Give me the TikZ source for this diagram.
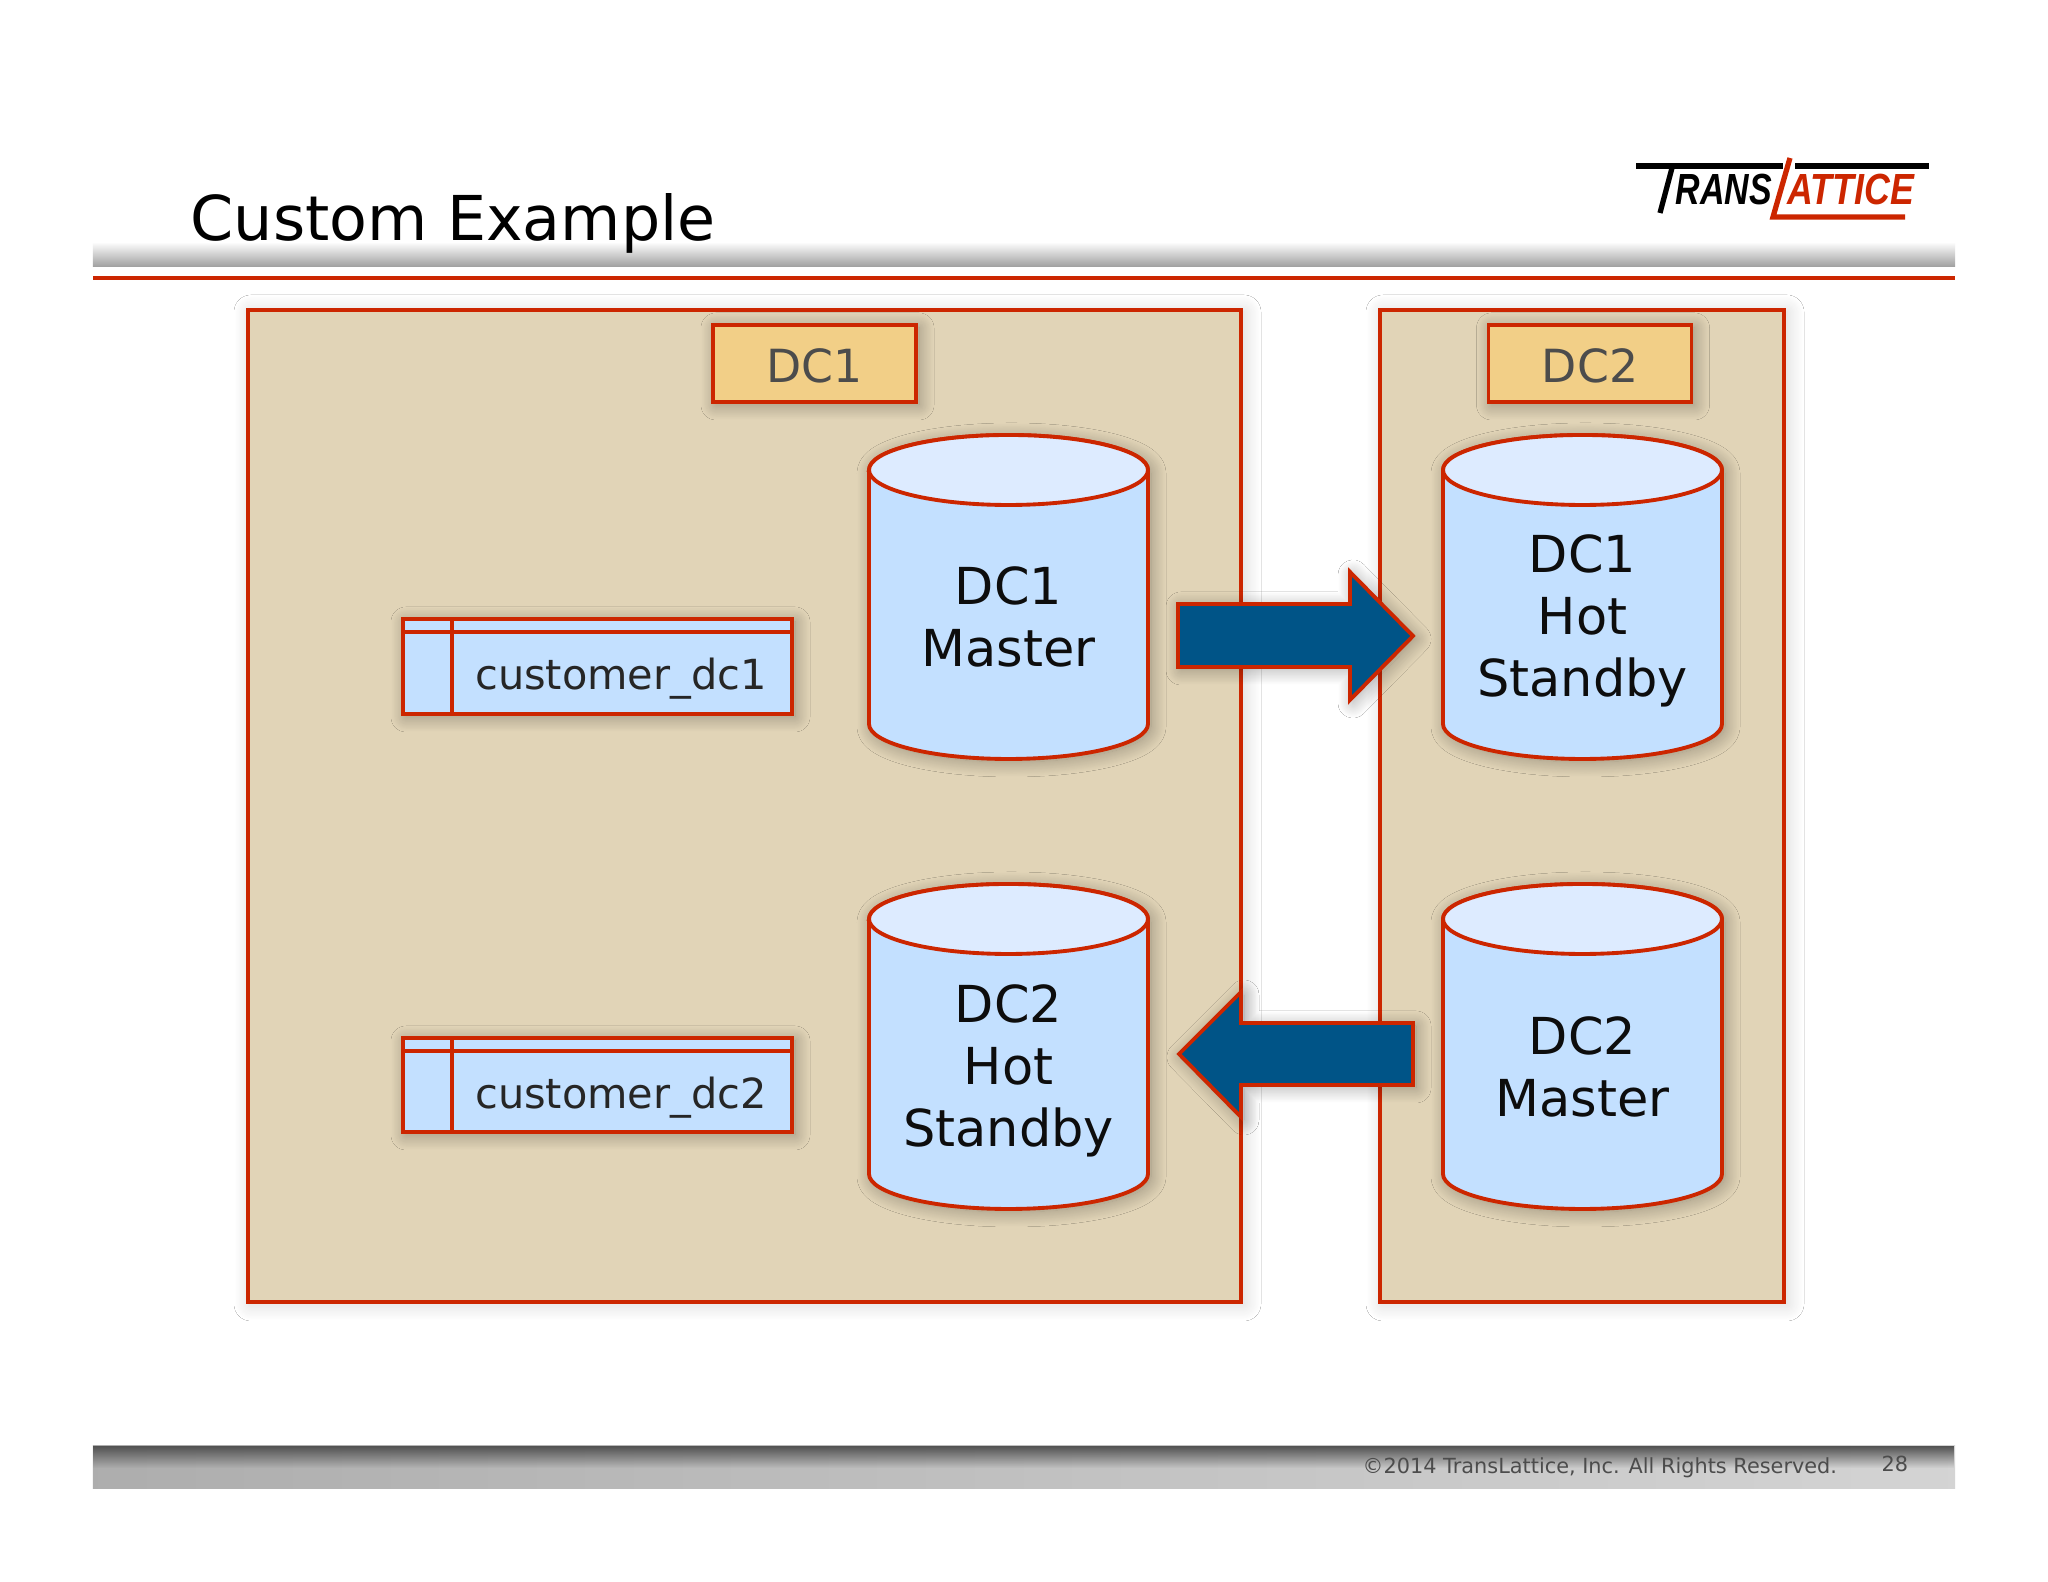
\documentclass[tikz,border=0pt]{standalone}
\usepackage{fontspec}
\setmainfont{DejaVu Sans}
\newfontfamily\logofont{Liberation Sans}
\usepackage{tikz}
\usetikzlibrary{shadows.blur, fadings}
\definecolor{boxred}{HTML}{CC2600}
\definecolor{sitetan}{HTML}{E1D4B7}
\definecolor{tagtan}{HTML}{F2CF87}
\definecolor{dbblue}{HTML}{C3E0FF}
\definecolor{dbtop}{HTML}{DDEBFF}
\definecolor{arrowblue}{HTML}{005487}
\tikzset{
	softshadow/.style={blur shadow={shadow xshift=.03cm, shadow yshift=-.03cm, shadow blur radius=.15cm, shadow blur steps=24, shadow opacity=34}},
	paleshadow/.style={blur shadow={shadow xshift=.03cm, shadow yshift=-.02cm, shadow blur radius=.17cm, shadow blur steps=24, shadow opacity=17}},
	redline/.style={draw=boxred, line width=1.1pt, line join=miter},
	sitebox/.style={redline, fill=sitetan, paleshadow},
	tagbox/.style={redline, fill=tagtan, softshadow, minimum width=2.03cm, minimum height=.77cm, text height=11pt, text depth=0pt, text=black!70, font=\fontsize{13}{15}\selectfont},
	dbbody/.style={redline, fill=dbblue, softshadow},
	dbcap/.style={redline, fill=dbtop},
	dblabel/.style={align=center, text=black!95, font=\fontsize{14.5}{17.6}\selectfont},
	tablebox/.style={redline, fill=dbblue, softshadow},
	tablelabel/.style={text=black!85, font=\fontsize{11.8}{14}\selectfont},
	flowarrow/.style={redline, fill=arrowblue, softshadow},
	logoblack/.style={line width=1.5pt, draw=black},
	logored/.style={line width=1.5pt, draw=boxred},
	logotext/.style={font=\logofont\bfseries\itshape\fontsize{12.4}{13}\selectfont, inner sep=0pt, anchor=base west},
	footer/.style={inner sep=0pt, anchor=base west, text=black!70, font=\fontsize{5.93}{7}\selectfont}
}
\begin{document}
\begin{tikzpicture}
		\useasboundingbox (0,0) rectangle (20.48,15.82);
		\fill[white] (0,0) rectangle (20.48,15.82);

		\shade[top color=white, bottom color=black!38] (.93,13.40) rectangle (19.55,13.15);
		\fill[boxred] (.93,13.06) rectangle (19.55,13.02);
		\node[inner sep=0pt, anchor=base west, font=\fontsize{17.6}{22}\selectfont] (title) at (1.90,13.41) {Custom Example};

		\draw[logoblack] (16.36,14.16) -- (17.83,14.16); \draw[logoblack] (17.95,14.16) -- (19.29,14.16); \draw[logoblack] (16.72,14.14) -- (16.60,13.69);
		\draw[logored, line join=miter] (17.90,14.24) -- (17.73,13.65) -- (19.05,13.65);
		\node[logotext, text=black, xscale=.78] (logotrans) at (16.75,13.77) {RANS};
		\node[logotext, text=boxred, xscale=.82] (logolattice) at (17.87,13.77) {ATTICE};

		\draw[sitebox] (2.48,2.80) rectangle (12.41,12.72);
		\draw[sitebox] (13.80,2.80) rectangle (17.84,12.72);
		\node[tagbox] (tagone) at (8.145,12.185) {DC1};
		\node[tagbox] (tagtwo) at (15.90,12.185) {DC2};

		\draw[tablebox] (4.03,8.68) rectangle (7.92,9.63); \draw[redline] (4.03,9.50) -- (7.92,9.50); \draw[redline] (4.52,8.68) -- (4.52,9.63);
		\node[tablelabel] (tableone) at (6.21,9.03) {customer\_dc1};
		\draw[tablebox] (4.03,4.50) rectangle (7.92,5.44); \draw[redline] (4.03,5.31) -- (7.92,5.31); \draw[redline] (4.52,4.50) -- (4.52,5.44);
		\node[tablelabel] (tabletwo) at (6.21,4.84) {customer\_dc2};

		\draw[flowarrow] (11.78,9.78) -- (13.50,9.78) -- (13.50,10.10) -- (14.13,9.46) -- (13.50,8.82) -- (13.50,9.15) -- (11.78,9.15) -- cycle;
		\draw[flowarrow] (11.79,5.28) -- (12.41,5.90) -- (12.41,5.59) -- (14.13,5.59) -- (14.13,4.97) -- (12.41,4.97) -- (12.41,4.65) -- cycle;

		\draw[dbbody] (8.69,11.12) -- (8.69,8.58) arc (180:360:1.395 and .35) -- (11.48,11.12) arc (0:180:1.395 and .35) -- cycle; \draw[dbcap] (10.085,11.12) ellipse (1.395 and .35);
		\node[dblabel] (dbonemaster) at (10.085,9.65) {DC1\\Master};
		\draw[dbbody] (14.43,11.12) -- (14.43,8.58) arc (180:360:1.395 and .35) -- (17.22,11.12) arc (0:180:1.395 and .35) -- cycle; \draw[dbcap] (15.825,11.12) ellipse (1.395 and .35);
		\node[dblabel] (dbonestandby) at (15.825,9.61) {DC1\\Hot\\Standby};
		\draw[dbbody] (8.69,6.63) -- (8.69,4.08) arc (180:360:1.395 and .35) -- (11.48,6.63) arc (0:180:1.395 and .35) -- cycle; \draw[dbcap] (10.085,6.63) ellipse (1.395 and .35);
		\node[dblabel] (dbtwostandby) at (10.085,5.11) {DC2\\Hot\\Standby};
		\draw[dbbody] (14.43,6.63) -- (14.43,4.08) arc (180:360:1.395 and .35) -- (17.22,6.63) arc (0:180:1.395 and .35) -- cycle; \draw[dbcap] (15.825,6.63) ellipse (1.395 and .35);
		\node[dblabel] (dbtwomaster) at (15.825,5.15) {DC2\\Master};

		\shade[left color=black!32, right color=black!17] (.93,1.36) rectangle (19.55,.93);
		\fill[black!68, path fading=south] (.93,1.36) rectangle (19.55,1.14);
		\node[footer] (copyright) at (13.62,1.08) {©2014 TransLattice, Inc. All Rights Reserved.};
		\node[footer] (pagenum) at (18.81,1.10) {28};
	\end{tikzpicture}
\end{document}
